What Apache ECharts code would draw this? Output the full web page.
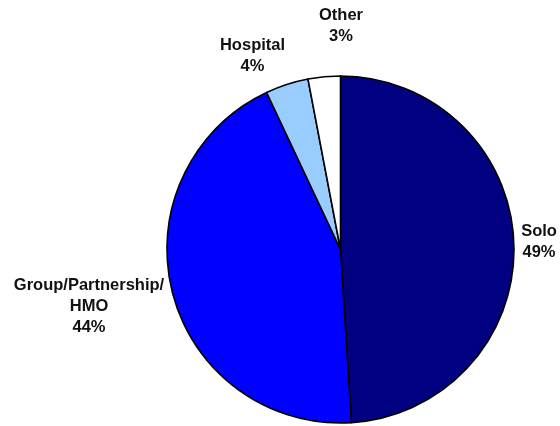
<!DOCTYPE html>
<html>
<head>
<meta charset="utf-8">
<script src="https://cdn.jsdelivr.net/npm/echarts@6/dist/echarts.min.js"></script>
<style>
html,body{margin:0;padding:0;background:#fff;}
#chart{width:560px;height:426px;}
</style>
</head>
<body>
<div id="chart"></div>
<script>
// Data
var categories = ['Solo', 'Group/Partnership/\nHMO', 'Hospital', 'Other'];
var values = [49, 44, 4, 3];
var colors = ['#000080', '#0000FF', '#99CCFF', '#FFFFFF'];
// Label centres (text placement only)
var labelPos = [[539, 242], [89, 306], [252.5, 56], [341, 26]];

var chart = echarts.init(document.getElementById('chart'), null, {renderer: 'canvas'});
var data = categories.map(function (c, i) {
  return { name: c, value: values[i], itemStyle: { color: colors[i] } };
});
chart.setOption({
  animation: false,
  backgroundColor: '#ffffff',
  series: [{
    type: 'pie',
    center: [340.5, 249.5],
    radius: 173.5,
    startAngle: 90,
    clockwise: true,
    avoidLabelOverlap: false,
    data: data,
    itemStyle: { borderColor: '#000000', borderWidth: 1.6 },
    emphasis: { disabled: true },
    label: {
      show: true,
      position: 'outside',
      formatter: function (p) { return p.name + '\n' + p.value + '%'; },
      fontFamily: 'Liberation Sans, Arial, sans-serif',
      fontWeight: 'bold',
      fontSize: 16.5,
      lineHeight: 21,
      color: '#111111',
      align: 'center'
    },
    labelLine: { show: false },
    labelLayout: function (params) {
      var p = labelPos[params.dataIndex];
      return { x: p[0], y: p[1], align: 'center', verticalAlign: 'middle' };
    }
  }]
});
</script>
</body>
</html>
